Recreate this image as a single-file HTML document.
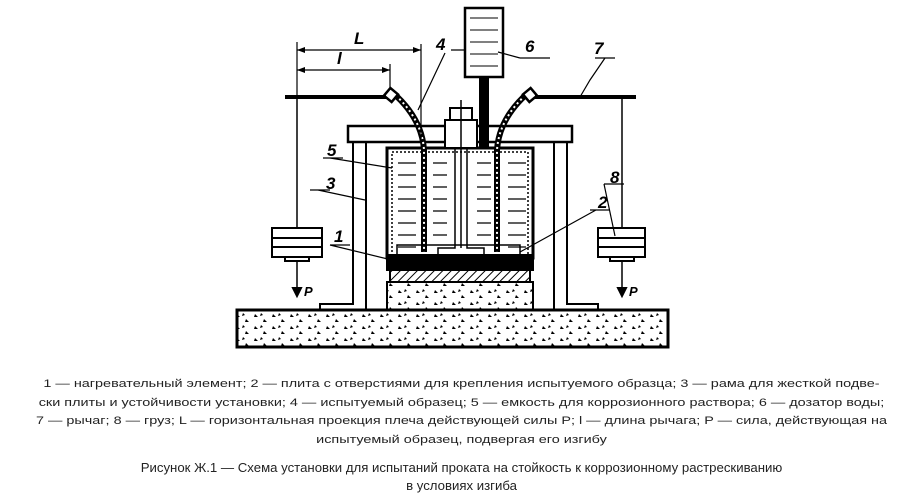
<!DOCTYPE html>
<html><head><meta charset="utf-8"><style>
body{margin:0;background:#fff;width:923px;height:504px;overflow:hidden;font-family:"Liberation Sans",sans-serif}
.cap{position:absolute;left:0;width:923px;text-align:center;color:#222}
.ln{display:block;white-space:nowrap;transform:scaleX(1.31);transform-origin:center}
</style></head><body>
<svg width="923" height="360" style="position:absolute;left:0;top:0" font-family="Liberation Sans" font-style="italic" font-weight="bold">
<defs>
<pattern id="tri" width="18" height="12" patternUnits="userSpaceOnUse">
<path d="M3 2 l3 3 h-4z M12 7 l3 3 h-4z M9 1 l2 2 l-3 1z" fill="#000"/>
</pattern>
<pattern id="hatch" width="6" height="6" patternUnits="userSpaceOnUse" patternTransform="rotate(45)">
<line x1="0" y1="0" x2="0" y2="6" stroke="#000" stroke-width="2"/>
</pattern>
</defs>
<g stroke="#000" fill="none" stroke-width="2">
<rect x="237" y="310" width="431" height="37" fill="url(#tri)" stroke-width="3"/>
<rect x="387" y="282" width="146" height="28" fill="url(#tri)"/>
<rect x="348" y="126" width="224" height="16" stroke-width="2.5"/>
<path d="M353 142 V304 H320 V310 M366 142 V310" />
<path d="M567 142 V304 H598 V310 M554 142 V310" />
<rect x="387" y="148" width="146" height="110" stroke-width="3"/>
<rect x="392" y="152" width="136" height="104" stroke-dasharray="2 2" stroke-width="1.5"/>
<rect x="387" y="255" width="146" height="15" fill="#000"/>
<rect x="390" y="270" width="140" height="12" fill="url(#hatch)"/>
<g stroke-width="1.2">
<path d="M398 163h18M398 175h18M398 187h18M398 199h18M398 211h18M398 223h18M398 235h18M398 247h18"/>
<path d="M433 163h14M433 175h14M433 187h14M433 199h14M433 211h14M433 223h14M433 235h14"/>
<path d="M477 163h14M477 175h14M477 187h14M477 199h14M477 211h14M477 223h14M477 235h14"/>
<path d="M508 163h18M508 175h18M508 187h18M508 199h18M508 211h18M508 223h18M508 235h18M508 247h18"/>
</g>
<rect x="445" y="120" width="32" height="28" fill="#fff"/>
<rect x="450" y="108" width="22" height="12" fill="#fff"/>
<path d="M455 148 V248 H438 V258 M467 148 V248 H484 V258 M461 100 V248" stroke-width="1.5"/>
<path d="M397 258 V245 H520 V258" stroke-width="1.5"/>
<path d="M392 92 Q422 118 424 150 V252" stroke-width="6"/>
<path d="M392 92 Q422 118 424 150 V252" stroke="#fff" stroke-width="2" stroke-dasharray="2 3"/>
<path d="M529 92 Q499 118 497 150 V252" stroke-width="6"/>
<path d="M529 92 Q499 118 497 150 V252" stroke="#fff" stroke-width="2" stroke-dasharray="2 3"/>
<rect x="386" y="90" width="10" height="10" transform="rotate(40 391 95)" fill="#fff" stroke-width="2.5"/>
<rect x="525" y="90" width="10" height="10" transform="rotate(-40 530 95)" fill="#fff" stroke-width="2.5"/>
<line x1="285" y1="97" x2="386" y2="97" stroke-width="4"/>
<line x1="535" y1="97" x2="636" y2="97" stroke-width="4"/>
<rect x="465" y="8" width="38" height="69" stroke-width="2.5"/>
<path d="M470 18h28M470 30h28M470 42h28M470 54h28M470 66h28" stroke-width="1"/>
<rect x="480" y="77" width="8" height="71" fill="#000"/>
<line x1="297" y1="97" x2="297" y2="228" stroke-width="1.5"/>
<rect x="272" y="228" width="50" height="29"/>
<path d="M272 238h50M272 247h50M285 257v4h24v-4"/>
<line x1="297" y1="261" x2="297" y2="292" stroke-width="1.5"/>
<path d="M293 288 l4 8 l4 -8z" fill="#000"/>
<line x1="622" y1="97" x2="622" y2="228" stroke-width="1.5"/>
<rect x="598" y="228" width="47" height="29"/>
<path d="M598 238h47M598 247h47M610 257v4h24v-4"/>
<line x1="622" y1="261" x2="622" y2="292" stroke-width="1.5"/>
<path d="M618 288 l4 8 l4 -8z" fill="#000"/>
<g stroke-width="1.2">
<path d="M297 42 V97 M421 44 V142 M390 64 V90"/>
<path d="M297 50 H421 M297 70 H390"/>
</g>
<path d="M297 50 l8 -3 v6z M421 50 l-8 -3 v6z M297 70 l8 -3 v6z M390 70 l-8 -3 v6z" fill="#000" stroke="none"/>
<g stroke-width="1.2">
<path d="M445 53 L418 110 M451 50h13"/>
<path d="M520 58 H550 M498 52 L520 58"/>
<path d="M605 58 L590 80 L580 97 M595 58h20"/>
<path d="M330 158 L392 168 M323 158h20"/>
<path d="M318 190 L365 200 M310 190h20"/>
<path d="M330 245 L392 260 M330 245h20"/>
<path d="M596 210 L520 252 M590 210h20"/>
<path d="M604 184 L615 236 M604 184h20"/>
</g>
</g>
<g font-size="17" fill="#000">
<text x="354" y="44">L</text>
<text x="337" y="64">l</text>
<text x="436" y="50">4</text>
<text x="525" y="52">6</text>
<text x="594" y="54">7</text>
<text x="327" y="156">5</text>
<text x="326" y="189">3</text>
<text x="334" y="242">1</text>
<text x="598" y="208">2</text>
<text x="610" y="183">8</text>
<text x="304" y="296" font-size="13">P</text>
<text x="629" y="296" font-size="13">P</text>
</g>
</svg>
<div class="cap" style="top:375px;font-size:11px;line-height:18.5px">
<span class="ln">1 — нагревательный элемент; 2 — плита с отверстиями для крепления испытуемого образца; 3 — рама для жесткой подве-</span>
<span class="ln">ски плиты и устойчивости установки; 4 — испытуемый образец; 5 — емкость для коррозионного раствора; 6 — дозатор воды;</span>
<span class="ln">7 — рычаг; 8 — груз; L — горизонтальная проекция плеча действующей силы P; l — длина рычага; P — сила, действующая на</span>
<span class="ln">испытуемый образец, подвергая его изгибу</span></div>
<div class="cap" style="top:459px;font-size:13.2px;line-height:18px">
Рисунок Ж.1 — Схема установки для испытаний проката на стойкость к коррозионному растрескиванию<br>в условиях изгиба</div>
</body></html>
